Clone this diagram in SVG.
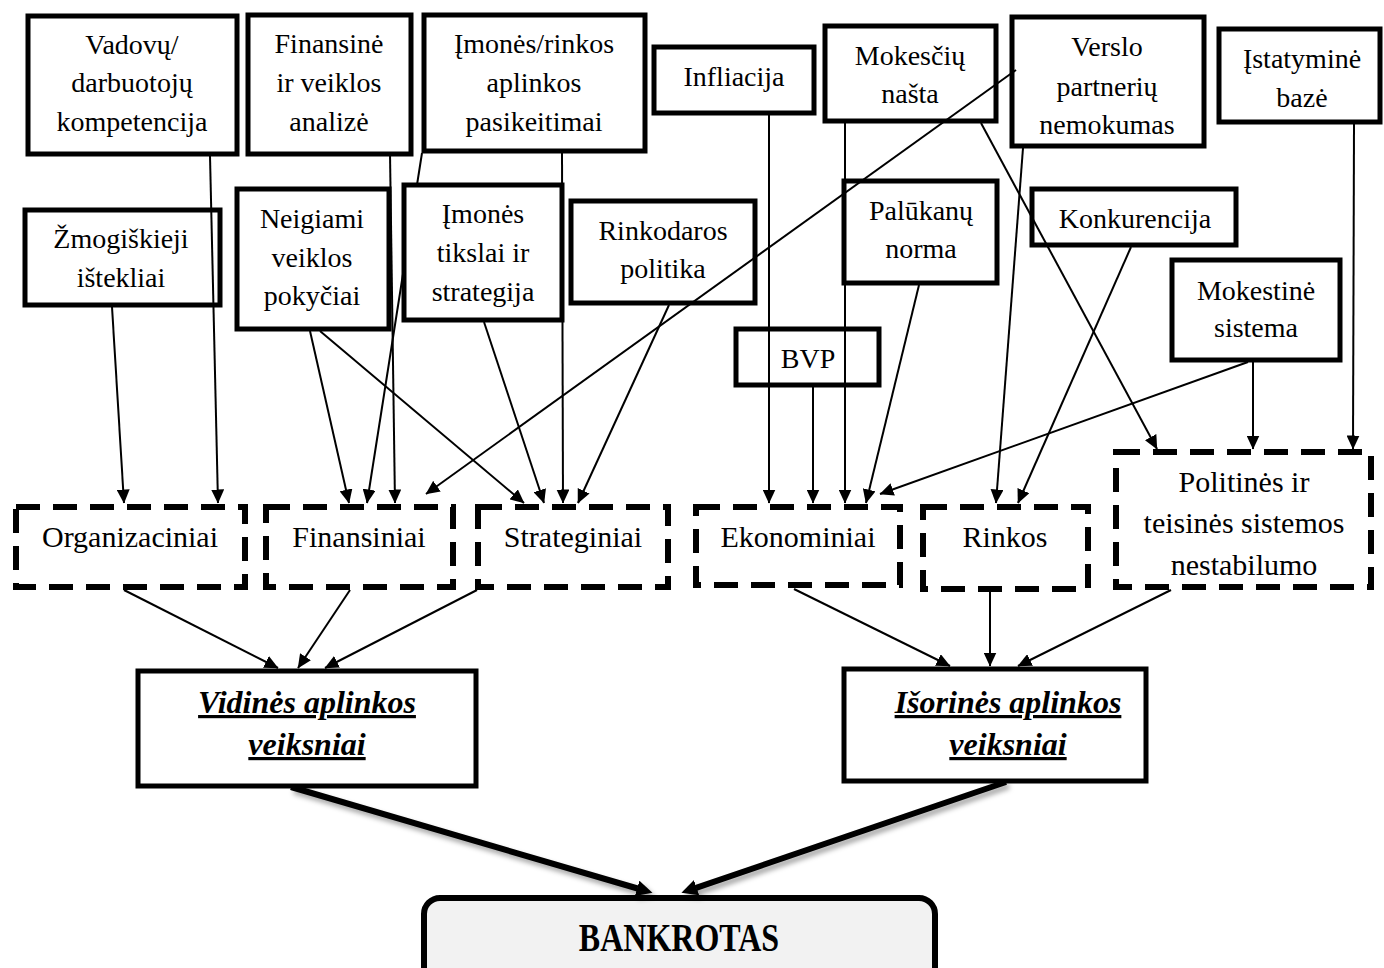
<svg xmlns="http://www.w3.org/2000/svg" width="1384" height="968" viewBox="0 0 1384 968">
<style>
.box{fill:#fff;stroke:#000;stroke-width:5}
.dash{fill:#fff;stroke:#000;stroke-width:6;stroke-dasharray:24 13}
.t{font-family:"Liberation Serif","Times New Roman",serif;font-size:28px;text-anchor:middle;fill:#000}
.d{font-size:30px}
.v{font-size:32px;font-weight:bold;font-style:italic;text-decoration:underline}
.bk{font-size:32px;font-weight:bold}
.ln{fill:none;stroke:#000;stroke-width:2;marker-end:url(#ah)}
.thick{fill:none;stroke:#000;stroke-width:6;marker-end:url(#ahb);filter:url(#sh)}
</style>
<defs>
<marker id="ah" markerUnits="userSpaceOnUse" viewBox="0 0 14 13" markerWidth="14" markerHeight="13" refX="13.5" refY="6.5" orient="auto"><path d="M0,0 L14,6.5 L0,13 z" fill="#000"/></marker>
<marker id="ahb" markerUnits="userSpaceOnUse" viewBox="0 0 16 16" markerWidth="16" markerHeight="16" refX="0.5" refY="8" orient="auto"><path d="M0,0 L16,8 L0,16 z" fill="#000"/></marker>
<filter id="sh" x="-10%" y="-20%" width="125%" height="160%"><feDropShadow dx="3" dy="4" stdDeviation="2.5" flood-color="#000" flood-opacity="0.35"/></filter>
</defs>
<rect width="1384" height="968" fill="#fff"/>

<g id="n_vadovu"><rect class="box" x="28" y="16" width="209" height="138"/><text class="t" x="132" y="54">Vadovų/</text><text class="t" x="132" y="92">darbuotojų</text><text class="t" x="132" y="131">kompetencija</text></g>
<g id="n_finansine"><rect class="box" x="248" y="15" width="163" height="139"/><text class="t" x="329" y="53">Finansinė</text><text class="t" x="329" y="92">ir veiklos</text><text class="t" x="329" y="131">analizė</text></g>
<g id="n_imones_rinkos"><rect class="box" x="424" y="15" width="221" height="136"/><text class="t" x="534" y="53">Įmonės/rinkos</text><text class="t" x="534" y="92">aplinkos</text><text class="t" x="534" y="131">pasikeitimai</text></g>
<g id="n_infliacija"><rect class="box" x="654" y="47" width="160" height="66"/><text class="t" x="734" y="86">Infliacija</text></g>
<g id="n_mokesciu"><rect class="box" x="825" y="26" width="171" height="95"/><text class="t" x="910" y="65">Mokesčių</text><text class="t" x="910" y="103">našta</text></g>
<g id="n_verslo"><rect class="box" x="1012" y="17" width="192" height="129"/><text class="t" x="1107" y="56">Verslo</text><text class="t" x="1107" y="96">partnerių</text><text class="t" x="1107" y="134">nemokumas</text></g>
<g id="n_istatymine"><rect class="box" x="1219" y="29" width="161" height="93"/><text class="t" x="1302" y="68">Įstatyminė</text><text class="t" x="1302" y="107">bazė</text></g>
<g id="n_zmogiskieji"><rect class="box" x="25" y="210" width="195" height="95"/><text class="t" x="121" y="248">Žmogiškieji</text><text class="t" x="121" y="287">ištekliai</text></g>
<g id="n_neigiami"><rect class="box" x="237" y="189" width="152" height="140"/><text class="t" x="312" y="228">Neigiami</text><text class="t" x="312" y="267">veiklos</text><text class="t" x="312" y="305">pokyčiai</text></g>
<g id="n_rinkodaros"><rect class="box" x="571" y="201" width="184" height="102"/><text class="t" x="663" y="240">Rinkodaros</text><text class="t" x="663" y="278">politika</text></g>
<g id="n_palukanu"><rect class="box" x="844" y="181" width="153" height="102"/><text class="t" x="921" y="220">Palūkanų</text><text class="t" x="921" y="258">norma</text></g>
<g id="n_konkurencija"><rect class="box" x="1032" y="189" width="204" height="56"/><text class="t" x="1135" y="228">Konkurencija</text></g>
<g id="n_mokestine"><rect class="box" x="1172" y="260" width="168" height="100"/><text class="t" x="1256" y="300">Mokestinė</text><text class="t" x="1256" y="337">sistema</text></g>
<g id="n_bvp"><rect class="box" x="736" y="329" width="143" height="56"/><text class="t" x="808" y="368">BVP</text></g>

<g id="n_organizaciniai"><rect class="dash" x="16" y="507" width="229" height="80"/><text class="t d" x="130" y="547">Organizaciniai</text></g>
<g id="n_finansiniai"><rect class="dash" x="266" y="507" width="187" height="80"/><text class="t d" x="359" y="547">Finansiniai</text></g>
<g id="n_strateginiai"><rect class="dash" x="478" y="507" width="190" height="80"/><text class="t d" x="573" y="547">Strateginiai</text></g>
<g id="n_ekonominiai"><rect class="dash" x="696" y="507" width="204" height="78"/><text class="t d" x="798" y="547">Ekonominiai</text></g>
<g id="n_rinkos"><rect class="dash" x="923" y="507" width="165" height="82"/><text class="t d" x="1005" y="547">Rinkos</text></g>
<g id="n_politines"><rect class="dash" x="1116" y="452" width="255" height="135"/><text class="t d" x="1244" y="492">Politinės ir</text><text class="t d" x="1244" y="533">teisinės sistemos</text><text class="t d" x="1244" y="575">nestabilumo</text></g>

<g id="n_vidines"><rect class="box" x="138" y="671" width="338" height="115"/><text class="t v" x="307" y="713">Vidinės aplinkos</text><text class="t v" x="307" y="755">veiksniai</text></g>
<g id="n_isorines"><rect class="box" x="844" y="669" width="302" height="112"/><text class="t v" x="1008" y="713">Išorinės aplinkos</text><text class="t v" x="1008" y="755">veiksniai</text></g>
<g id="n_bankrotas"><rect x="424" y="898" width="511" height="90" rx="16" fill="#f2f2f2" stroke="#000" stroke-width="6"/><text class="t bk" transform="translate(679,951) scale(1,1.25)" x="0" y="0">BANKROTAS</text></g>

<g id="connectors">
<path class="ln" d="M112,307 L124,503"/>
<path class="ln" d="M210,156 L218,503"/>
<path class="ln" d="M310,331 L349,503"/>
<path class="ln" d="M422,153 L367,503"/>
<path class="ln" d="M390,153 L395,503"/>
<path class="ln" d="M1016,70 L426,494"/>
<path class="ln" d="M320,331 L524,503"/>
<path class="ln" d="M484,322 L544,503"/>
<path class="ln" d="M562,153 L563,503"/>
<path class="ln" d="M669,305 L578,503"/>
<path class="ln" d="M769,115 L769,503"/>
<path class="ln" d="M813,387 L813,503"/>
<path class="ln" d="M845,123 L845,503"/>
<path class="ln" d="M919,285 L866,503"/>
<path class="ln" d="M1248,362 L880,494"/>
<path class="ln" d="M1023,148 L996,503"/>
<path class="ln" d="M1131,247 L1018,503"/>
<path class="ln" d="M981,123 L1157,449"/>
<path class="ln" d="M1253,362 L1253,449"/>
<path class="ln" d="M1354,124 L1353,449"/>
<path class="ln" d="M124,590 L278,668"/>
<path class="ln" d="M350,590 L298,668"/>
<path class="ln" d="M477,590 L325,668"/>
<path class="ln" d="M794,589 L950,666"/>
<path class="ln" d="M990,592 L990,666"/>
<path class="ln" d="M1171,590 L1018,666"/>
<path class="thick" d="M291,787 L637.6,888.5"/>
<path class="thick" d="M1006,782 L696.1,887.8"/>
</g>

<g id="n_imones_tikslai"><rect class="box" x="404" y="185" width="158" height="135"/><text class="t" x="483" y="223">Įmonės</text><text class="t" x="483" y="262">tikslai ir</text><text class="t" x="483" y="301">strategija</text></g>
</svg>
